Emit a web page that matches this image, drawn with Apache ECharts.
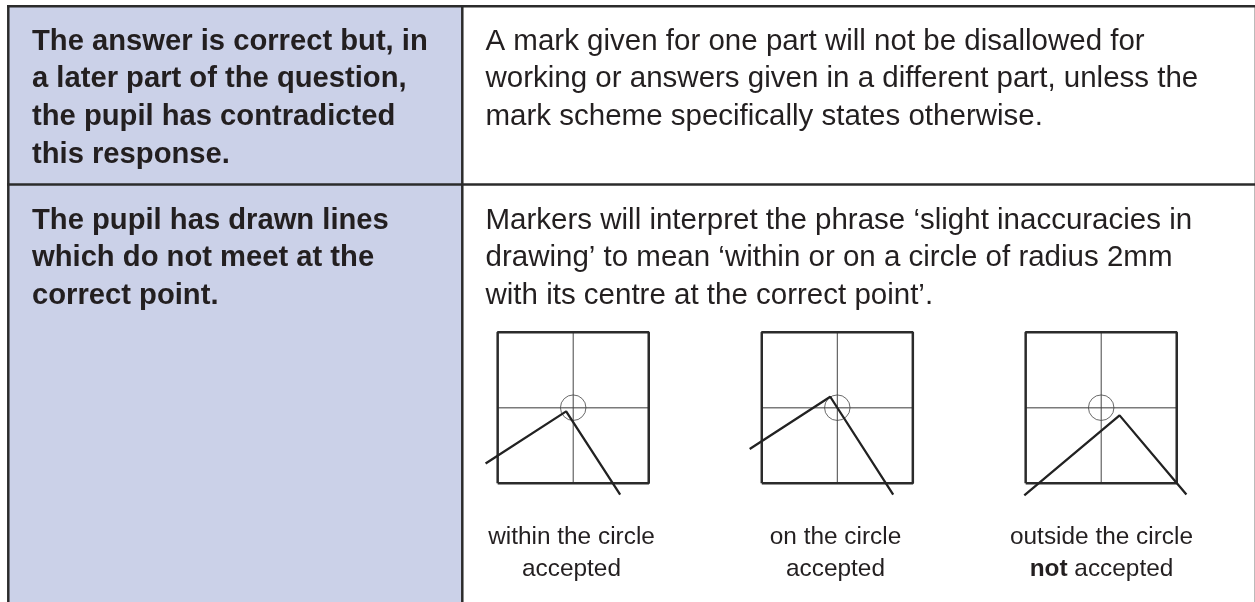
<!DOCTYPE html>
<html>
<head>
<meta charset="utf-8">
<style>
  html, body { margin: 0; padding: 0; background: #fff; }
  #chart { width: 1255px; height: 602px; }
</style>
<script src="https://cdn.jsdelivr.net/npm/echarts@6/dist/echarts.min.js"></script>
</head>
<body>
<div id="chart"></div>
<script>
// left column, one array per row
const row1Left = ['The answer is correct but, in', 'a later part of the question,', 'the pupil has contradicted', 'this response.'];
const row2Left = ['The pupil has drawn lines', 'which do not meet at the', 'correct point.'];
// right column
const row1Right = ['A mark given for one part will not be disallowed for', 'working or answers given in a different part, unless the', 'mark scheme specifically states otherwise.'];
const row2Right = ['Markers will interpret the phrase ‘slight inaccuracies in', 'drawing’ to mean ‘within or on a circle of radius 2mm', 'with its centre at the correct point’.'];

// the drawn lines of each diagram, the square runs -6..6 on both axes
const withinLine = [[-6.96, -4.44], [-0.56, -0.29], [3.73, -6.9]];
const onLine = [[-6.96, -3.28], [-0.56, 0.87], [4.44, -6.9]];
const outsideLine = [[-6.11, -6.96], [1.46, -0.61], [6.77, -6.9]];
const squareOutline = [[-6, -6], [6, -6], [6, 6], [-6, 6], [-6, -6]];
const crossH = [[-6, 0], [6, 0]];
const crossV = [[0, -6], [0, 6]];
const circleCentre = [[0, 0]];

const captions = [
  ['within the circle', 'accepted'],
  ['on the circle', 'accepted'],
  ['outside the circle', '{b|not} accepted']
];
const panelLines = [withinLine, onLine, outsideLine];
const panelCentreX = [573.2, 837.3, 1101.2];
const captionCentreX = [571.5, 835.5, 1101.5];

const ink = '#231f20';
const font = 'Liberation Sans';

function textBlock(lines, x, y, size, weight) {
  return lines.map((s, i) => ({
    type: 'text',
    x: x,
    y: y + i * 37.7,
    style: { text: s, fontFamily: font, fontSize: size, fontWeight: weight, fill: ink, textVerticalAlign: 'middle' }
  }));
}

function rule(x1, y1, x2, y2, color, width) {
  return { type: 'line', shape: { x1, y1, x2, y2 }, style: { stroke: color || '#2b2b2b', lineWidth: width || 2.5 }, z: 10 };
}

const graphic = [
  { type: 'rect', shape: { x: 8, y: 6, width: 454, height: 596 }, style: { fill: '#cbd1e8' }, z: -1 },
  rule(1254.5, 6, 1254.5, 602, '#bbbbbb', 1),
  rule(7, 6.3, 1255, 6.3),
  rule(7, 184.4, 1255, 184.4),
  rule(8.3, 6, 8.3, 602),
  rule(462.3, 6, 462.3, 602)
]
  .concat(textBlock(row1Left, 32, 41.5, 29.2, 'bold'))
  .concat(textBlock(row2Left, 32, 220.5, 29.2, 'bold'))
  .concat(textBlock(row1Right, 485.5, 41.5, 29.5, 'normal'))
  .concat(textBlock(row2Right, 485.5, 220.5, 29.5, 'normal'));

captions.forEach((cap, i) => {
  cap.forEach((s, j) => {
    graphic.push({
      type: 'text',
      x: captionCentreX[i],
      y: 537 + j * 32,
      style: {
        text: s, fontFamily: font, fontSize: 24.4, fill: ink, align: 'center', verticalAlign: 'middle',
        rich: { b: { fontFamily: font, fontSize: 24.4, fontWeight: 'bold', fill: ink } }
      }
    });
  });
});

function lineSeries(i, data, color, width, z) {
  return {
    type: 'line', xAxisIndex: i, yAxisIndex: i, data: data, symbol: 'none', silent: true,
    lineStyle: { color: color, width: width }, z: z
  };
}

// axes run a bit past the square so the drawn lines can overshoot it
const grids = [], xAxes = [], yAxes = [], series = [];
panelLines.forEach((pts, i) => {
  grids.push({ left: panelCentreX[i] - 100.7, top: 407.7 - 100.7, width: 201.4, height: 201.4 });
  const axis = { type: 'value', gridIndex: i, min: -8, max: 8, show: false };
  xAxes.push(Object.assign({}, axis));
  yAxes.push(Object.assign({}, axis));
  series.push(lineSeries(i, crossH, '#7a7a7a', 1.5, 2));
  series.push(lineSeries(i, crossV, '#444444', 1, 2));
  series.push(lineSeries(i, squareOutline, '#2b2b2b', 2.5, 3));
  series.push({
    type: 'scatter', xAxisIndex: i, yAxisIndex: i, data: circleCentre, symbol: 'circle', symbolSize: 25.5, silent: true,
    itemStyle: { color: 'transparent', borderColor: '#444444', borderWidth: 1 }, z: 4
  });
  series.push(lineSeries(i, pts, '#222222', 2.3, 5));
});

const chart = echarts.init(document.getElementById('chart'), null, { renderer: 'canvas' });
chart.setOption({
  animation: false,
  backgroundColor: '#ffffff',
  grid: grids,
  xAxis: xAxes,
  yAxis: yAxes,
  series: series,
  graphic: graphic
});
</script>
</body>
</html>
